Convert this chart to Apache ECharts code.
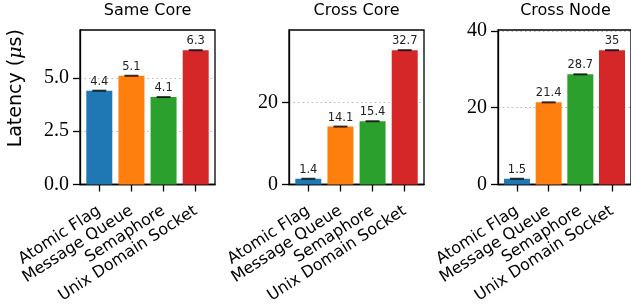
<!DOCTYPE html>
<html>
<head>
    <meta charset="utf-8">
    <script src="https://cdn.jsdelivr.net/npm/echarts@6/dist/echarts.min.js"></script>
    <style type="text/css">
        * { margin: 0; }
        html, body { width: 100%; height: 100%; background: #fff; }
    </style>
</head>
<body>
<div id="chart" style="width:631px;height:306px"></div>
<script type="text/javascript">
    // data
    var categories = ['Atomic Flag', 'Message Queue', 'Semaphore', 'Unix Domain Socket'];
    var panelTitles = ['Same Core', 'Cross Core', 'Cross Node'];
    var sameCore = [4.4, 5.1, 4.1, 6.3];
    var crossCore = [1.4, 14.1, 15.4, 32.7];
    var crossNode = [1.5, 21.4, 28.7, 35];
    var yTicks = [[0, 2.5, 5], [0, 20], [0, 20, 40]];
    var yDecimals = [1, 0, 0];
    var colors = ['#1f77b4', '#ff7f0e', '#2ca02c', '#d62728'];

    var panels = [sameCore, crossCore, crossNode];
    var catIdx = [0, 1, 2, 3];

    var grids = [], xAxes = [], yAxes = [], series = [], graphics = [];
    panels.forEach(function (vals, i) {
        var left = 80 + 209 * i;
        var ymax = Math.max.apply(null, vals) * 1.15;
        grids.push({
            left: left, top: 30, width: 135, height: 154.5,
            show: true, borderColor: '#000', borderWidth: 1.3
        });
        xAxes.push({
            type: 'value', gridIndex: i, min: -0.6, max: 3.6,
            axisLine: { onZero: false, lineStyle: { color: '#000', width: 1.3 } },
            axisTick: { customValues: catIdx, length: 7, lineStyle: { color: '#000', width: 1.3 } },
            axisLabel: {
                customValues: catIdx, rotate: 33, margin: 25,
                color: '#000', fontFamily: 'DejaVu Sans', fontSize: 16,
                formatter: function (v) { return categories[v]; }
            },
            splitLine: { show: false }
        });
        var y = {
            type: 'value', gridIndex: i, min: 0, max: ymax,
            axisLine: { show: true, onZero: false, lineStyle: { color: '#000', width: 1.3 } },
            axisTick: { show: true, customValues: yTicks[i], length: 7, lineStyle: { color: '#000', width: 1.3 } },
            axisLabel: {
                customValues: yTicks[i], margin: 11,
                color: '#000', fontFamily: 'Liberation Serif', fontSize: 20,
                formatter: function (v) { return v.toFixed(yDecimals[i]); }
            },
            splitLine: { show: true, lineStyle: { color: '#b8b8b8', width: 1.2, type: [1.5, 3] } }
        };
        if (i === 0) {
            y.name = '{a|Latency (}{b|μ}{a|s)}';
            y.nameLocation = 'middle';
            y.nameGap = 54;
            y.nameTextStyle = {
                padding: [0, 0, 0, 38],
                rich: {
                    a: { fontFamily: 'DejaVu Sans', fontSize: 19, color: '#000' },
                    b: { fontFamily: 'DejaVu Serif', fontStyle: 'italic', fontSize: 19, color: '#000' }
                }
            };
        }
        yAxes.push(y);

        var barData = vals.map(function (v, k) {
            return { value: [k, v], itemStyle: { color: colors[k] } };
        });
        series.push({
            type: 'bar', xAxisIndex: i, yAxisIndex: i, barWidth: 26,
            data: barData,
            label: {
                show: true, position: 'top', distance: 3,
                fontFamily: 'DejaVu Sans', fontSize: 11.5, color: '#222',
                formatter: function (p) { return String(p.value[1]); }
            }
        });
        series.push({
            type: 'scatter', xAxisIndex: i, yAxisIndex: i,
            symbol: 'rect', symbolSize: [14, 2],
            itemStyle: { color: '#000' }, z: 5, silent: true,
            data: vals.map(function (v, k) { return [k, v]; })
        });
        graphics.push({
            type: 'text', x: left + 67.5, y: 3,
            style: {
                text: panelTitles[i], align: 'center', verticalAlign: 'top',
                font: '16px "DejaVu Sans"', fill: '#000'
            }
        });
    });

    var myChart = echarts.init(document.getElementById('chart'));
    myChart.setOption({
        animation: false,
        grid: grids,
        xAxis: xAxes,
        yAxis: yAxes,
        series: series,
        graphic: graphics
    });
</script>
</body>
</html>
